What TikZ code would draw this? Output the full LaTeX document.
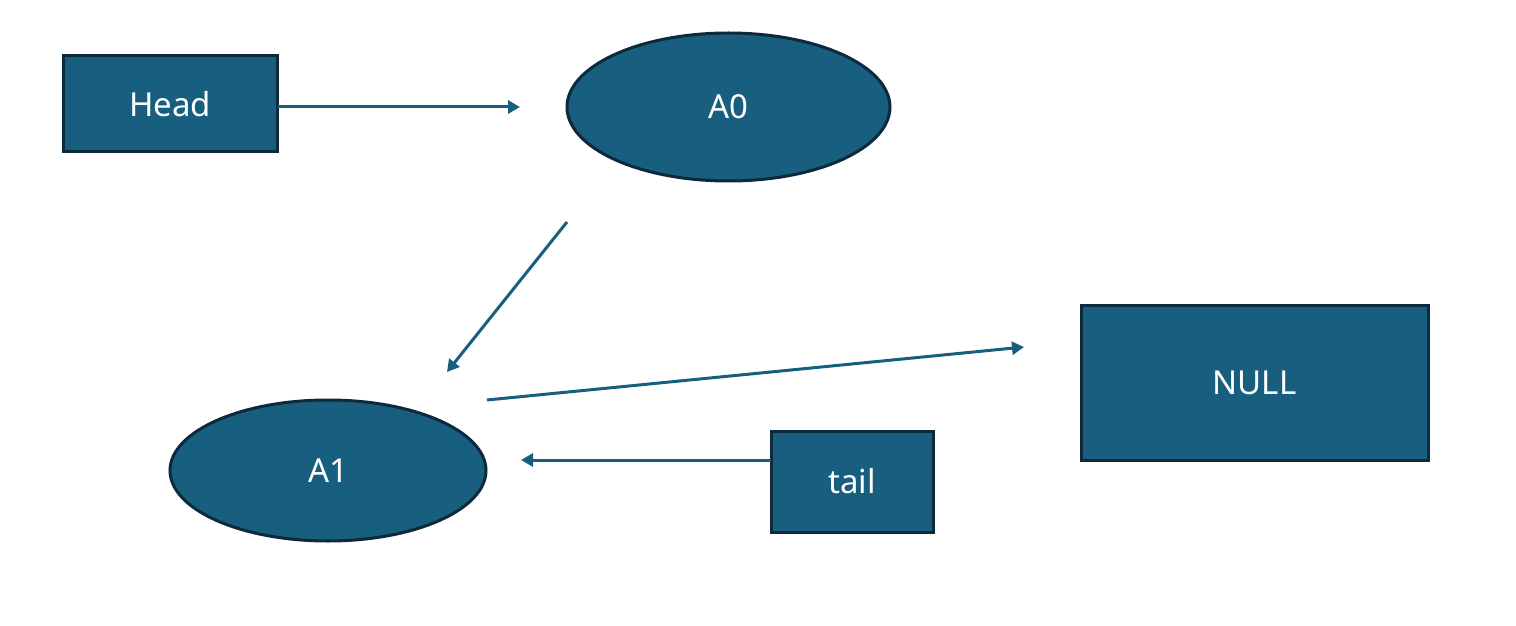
\documentclass[tikz,border=0pt]{standalone}
\usepackage{fontspec}
\setmainfont{Noto Sans}
\usetikzlibrary{arrows.meta,shapes.geometric}

\definecolor{nodefill}{HTML}{175E7F}
\definecolor{nodeedge}{HTML}{0C2A3B}
\definecolor{linkcol}{HTML}{175E7F}

\tikzset{
  listbox/.style={rectangle, draw=nodeedge, fill=nodefill, line width=1.5pt,
    text=white, font=\fontsize{16.5}{20}\selectfont, inner sep=0pt},
  listnode/.style={ellipse, draw=nodeedge, fill=nodefill, line width=1.5pt,
    text=white, font=\fontsize{16.5}{20}\selectfont, inner sep=0pt},
  link/.style={draw=linkcol, line width=1.5pt,
    -{Triangle[length=6pt,width=6.5pt]}}
}

\begin{document}
\begin{tikzpicture}[x=0.5pt,y=-0.5pt]
    \useasboundingbox (0,0) rectangle (1516,626);

    % nodes
    \node[listbox, minimum width=107pt, minimum height=48pt] (head) at (170,104) {Head};
    \node[listnode, minimum width=161.5pt, minimum height=74pt] (a0) at (728.5,107) {A0};
    \node[listnode, minimum width=158pt, minimum height=70.5pt] (a1) at (328,470.5) {A1};
    \node[listbox, minimum width=173.5pt, minimum height=77.5pt] (null) at (1254.5,382.5) {NULL};
    \node[listbox, minimum width=81pt, minimum height=50.5pt] (tail) at (852,481.5) {tail};

    % loose arrow ends
    \coordinate (headOut) at (278,107);
    \coordinate (headIn) at (520,107);
    \coordinate (a0Out) at (567,222);
    \coordinate (a1In) at (447,372);
    \coordinate (a1Out) at (487,400);
    \coordinate (nullIn) at (1024,347);
    \coordinate (tailOut) at (771,460);
    \coordinate (tailIn) at (521,460);

    % links
    \draw[link] (headOut) -- (headIn);
    \draw[link] (a0Out) -- (a1In);
    \draw[link] (a1Out) -- (nullIn);
    \draw[link] (tailOut) -- (tailIn);
\end{tikzpicture}
\end{document}
